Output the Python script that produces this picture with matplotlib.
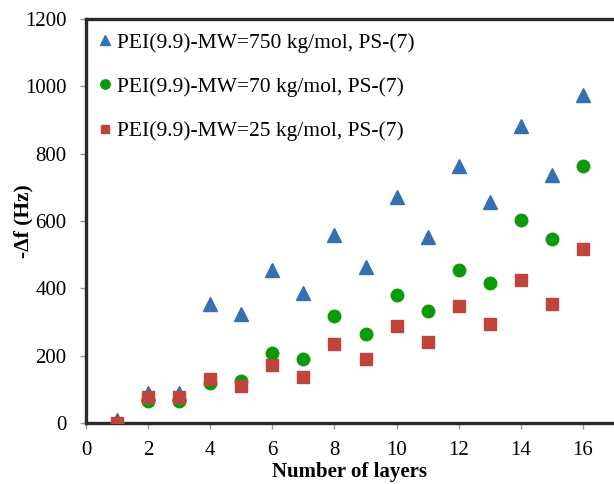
import matplotlib
matplotlib.use("Agg")
import matplotlib.pyplot as plt

# Frequency shift vs. number of deposited layers
layers = [1, 2, 3, 4, 5, 6, 7, 8, 9, 10, 11, 12, 13, 14, 15, 16]
mw750 = [8, 90, 90, 353, 325, 455, 386, 558, 463, 671, 553, 763, 655, 882, 737, 974]
mw70 = [0, 65, 65, 118, 124, 208, 189, 319, 264, 380, 334, 454, 416, 603, 546, 763]
mw25 = [0, 78, 78, 130, 110, 172, 137, 234, 190, 288, 242, 347, 294, 424, 354, 518]

labels = ["PEI(9.9)-MW=750 kg/mol, PS-(7)",
          "PEI(9.9)-MW=70 kg/mol, PS-(7)",
          "PEI(9.9)-MW=25 kg/mol, PS-(7)"]

xticks = [0, 2, 4, 6, 8, 10, 12, 14, 16]
yticks = [0, 200, 400, 600, 800, 1000, 1200]

plt.rcParams["font.family"] = ["Liberation Serif", "DejaVu Serif"]

fig = plt.figure(figsize=(6.14, 4.84), dpi=100)
ax = fig.add_axes([0.140, 0.126, 0.860, 0.835])

ax.plot(layers, mw750, linestyle="none", marker="^", markersize=9.5,
        color="#3570B2", label=labels[0], zorder=3)
ax.plot(layers, mw70, linestyle="none", marker="o", markersize=9,
        color="#0A9A0A", label=labels[1], zorder=4)
ax.plot(layers, mw25, linestyle="none", marker="s", markersize=8.5,
        color="#C0443C", label=labels[2], zorder=5)

ax.set_xlim(0, 17)
ax.set_ylim(0, 1200)
ax.set_xticks(xticks)
ax.set_yticks(yticks)
ax.tick_params(axis="both", labelsize=15, color="#999999", length=4,
               width=1, direction="out")
ax.tick_params(axis="x", pad=9)
ax.tick_params(axis="y", pad=10)

for side in ("left", "bottom", "top"):
    ax.spines[side].set_linewidth(2.4)
    ax.spines[side].set_color("#2a2a2a")
ax.spines["right"].set_visible(False)

ax.set_xlabel("Number of layers", fontsize=15, fontweight="bold")
ax.xaxis.set_label_coords(0.5, -0.096)
ax.set_ylabel("-\u0394f (Hz)", fontsize=15.5, fontweight="bold")
ax.yaxis.set_label_coords(-0.100, 0.5)

leg = ax.legend(loc="upper left", frameon=False, fontsize=15.5,
                handletextpad=0.15, handlelength=0.8, labelspacing=1.12,
                borderaxespad=0.0, borderpad=0.55, markerscale=0.75,
                bbox_to_anchor=(-0.002, 0.995))

fig.savefig("out.png", dpi=100)
